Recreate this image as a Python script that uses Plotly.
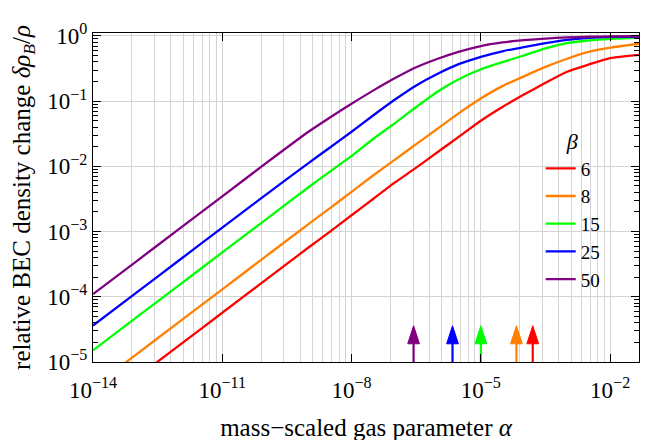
import numpy as np
import plotly.graph_objects as go

# mass-scaled gas parameter alpha (sample points)
alpha = [1e-14, 1e-13, 1e-12, 1e-11, 1e-10, 1e-9, 3.16e-9, 1e-8, 3.16e-8, 1e-7, 3.16e-7,
         1e-6, 3.16e-6, 1e-5, 3.16e-5, 1e-4, 3.16e-4, 1e-3, 3.16e-3, 1e-2, 4.7e-2]

# relative BEC density change for each beta
drho_b6 = [1.80e-6, 5.69e-6, 1.80e-5, 5.69e-5, 1.80e-4, 5.69e-4, 1.00e-3, 1.78e-3, 3.16e-3, 5.62e-3, 9.55e-3,
           1.66e-2, 2.88e-2, 5.01e-2, 8.13e-2, 0.126, 0.191, 0.282, 0.363, 0.457, 0.513]
drho_b8 = [4.12e-6, 1.30e-5, 4.12e-5, 1.30e-4, 4.12e-4, 1.30e-3, 2.29e-3, 4.07e-3, 7.24e-3, 1.26e-2, 2.19e-2,
           3.80e-2, 6.61e-2, 0.110, 0.170, 0.240, 0.335, 0.447, 0.569, 0.661, 0.759]
drho_b15 = [1.51e-5, 4.79e-5, 1.51e-4, 4.79e-4, 1.51e-3, 4.79e-3, 8.32e-3, 1.45e-2, 2.63e-2, 4.57e-2, 8.13e-2,
            0.141, 0.219, 0.309, 0.398, 0.501, 0.646, 0.776, 0.851, 0.902, 0.944]
drho_b25 = [3.63e-5, 1.15e-4, 3.63e-4, 1.15e-3, 3.63e-3, 1.12e-2, 1.95e-2, 3.39e-2, 6.03e-2, 0.105, 0.174,
            0.263, 0.372, 0.479, 0.582, 0.676, 0.776, 0.871, 0.933, 0.964, 0.977]
drho_b50 = [1.10e-4, 3.47e-4, 1.10e-3, 3.47e-3, 1.10e-2, 3.39e-2, 5.62e-2, 9.12e-2, 0.145, 0.224, 0.331,
            0.447, 0.575, 0.700, 0.794, 0.861, 0.912, 0.951, 0.971, 0.982, 0.989]

betas = ["6", "8", "15", "25", "50"]
# arrow markers on the alpha axis, one per beta
arrow_alpha = [1.6e-4, 6.7e-5, 1.0e-5, 2.2e-6, 2.75e-7]

x_tickvals = [1e-14, 1e-11, 1e-8, 1e-5, 1e-2]
x_ticktext = ["10<sup>\u221214</sup>", "10<sup>\u221211</sup>", "10<sup>\u22128</sup>",
              "10<sup>\u22125</sup>", "10<sup>\u22122</sup>"]
y_tickvals = [1e-5, 1e-4, 1e-3, 1e-2, 1e-1, 1]
y_ticktext = ["10<sup>\u22125</sup>", "10<sup>\u22124</sup>", "10<sup>\u22123</sup>",
              "10<sup>\u22122</sup>", "10<sup>\u22121</sup>", "10<sup>0</sup>"]

series = [drho_b6, drho_b8, drho_b15, drho_b25, drho_b50]
colors = ["#ff0000", "#ff8000", "#00ff00", "#0000ff", "#800080"]
font = "Liberation Serif, Times New Roman, serif"
grid = "#d4d4d4"

# vertical grid lines: Mathematica style, k^3 steps between the 3-decade ticks
x_grid = [v * k**3 for v in x_tickvals[:-1] for k in range(2, 10)]

fig = go.Figure()
for s, c, b in zip(series, colors, betas):
    fig.add_trace(go.Scatter(x=alpha, y=s, mode="lines", name=b,
                             line=dict(color=c, width=2.3, shape="spline", smoothing=0.6)))

tip = 3.6e-5
shaft_top = 2.6e-5
for a, c in zip(arrow_alpha, colors):
    fig.add_trace(go.Scatter(x=[a, a], y=[1e-5, shaft_top], mode="lines", showlegend=False,
                             line=dict(color=c, width=2.2), cliponaxis=False, hoverinfo="skip"))
# arrow heads
fig.add_trace(go.Scatter(x=arrow_alpha, y=[tip] * len(arrow_alpha), mode="markers", showlegend=False,
                         marker=dict(symbol="arrow", size=19, color=colors, opacity=1,
                                     line=dict(color=colors, width=1)),
                         cliponaxis=False, hoverinfo="skip"))

# white box behind the legend
fig.add_shape(type="rect", xref="paper", yref="paper", x0=0.801, x1=0.962, y0=0.167, y1=0.756,
              fillcolor="white", line=dict(width=0), layer="between")

fig.update_xaxes(type="log", range=[-14, -1.33], tickvals=x_tickvals, ticktext=x_ticktext,
                 ticks="inside", ticklen=8, tickwidth=1.2, tickcolor="black", ticklabelstandoff=7,
                 showline=True, linecolor="black", linewidth=1.3, mirror="allticks",
                 showgrid=True, gridcolor=grid, gridwidth=1.3,
                 minor=dict(tickvals=x_grid, showgrid=True, gridcolor=grid, gridwidth=1.3, ticks=""),
                 tickfont=dict(family=font, size=23, color="black"),
                 title=dict(text="mass\u2212scaled gas parameter <i>\u03b1</i>",
                            font=dict(family=font, size=25, color="black"), standoff=16))
fig.update_yaxes(type="log", range=[-5, 0.045], tickvals=y_tickvals, ticktext=y_ticktext,
                 ticks="inside", ticklen=8, tickwidth=1.2, tickcolor="black",
                 showline=True, linecolor="black", linewidth=1.3, mirror="allticks",
                 showgrid=True, gridcolor=grid, gridwidth=1.3,
                 minor=dict(dtick="D1", ticks="inside", ticklen=4.5, tickwidth=1, tickcolor="black", showgrid=False),
                 tickfont=dict(family=font, size=23, color="black"),
                 title=dict(text="relative BEC density change <i>\u03b4\u03c1</i><sub><i>B</i></sub>/<i>\u03c1</i>",
                            font=dict(family=font, size=25, color="black"), standoff=10))

fig.update_layout(
    width=648, height=440,
    margin=dict(l=83, r=17, t=22, b=78),
    paper_bgcolor="white", plot_bgcolor="white",
    font=dict(family=font, size=20, color="black"),
    legend=dict(x=0.82, y=0.733, xanchor="left", yanchor="top", bgcolor="rgba(0,0,0,0)",
                title=dict(text="<i>\u03b2</i>", side="top center", font=dict(family=font, size=22)),
                font=dict(family=font, size=19), tracegroupgap=0),
)

fig.write_html("out.html")
